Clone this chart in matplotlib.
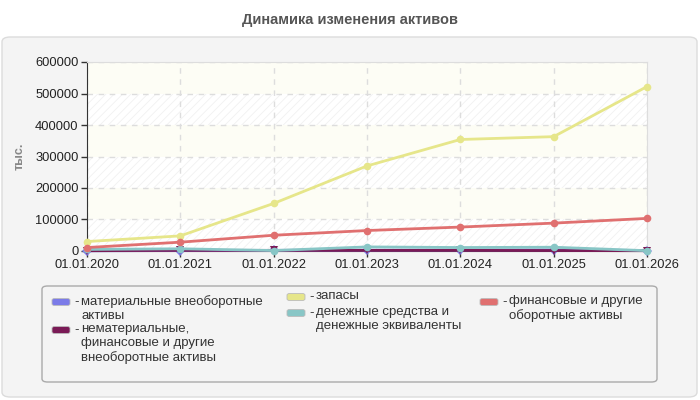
import numpy as np
import matplotlib
matplotlib.use("Agg")
import matplotlib.pyplot as plt
from matplotlib.patches import FancyBboxPatch

plt.rcParams['font.family'] = ['Liberation Sans', 'DejaVu Sans']
plt.rcParams['hatch.linewidth'] = 0.5

# data (тыс.)
dates = ['01.01.2020', '01.01.2021', '01.01.2022', '01.01.2023',
         '01.01.2024', '01.01.2025', '01.01.2026']
material = [500, 1500, 2000, 2500, 3000, 3500, 1500]
intangible = [1000, 2000, 2000, 2000, 2000, 1500, 1000]
stocks = [30000, 48000, 151000, 270000, 354000, 363000, 522000]
cash = [5000, 7000, 1500, 13000, 11000, 12000, 1000]
financial = [11000, 28000, 50000, 65000, 76000, 88500, 103500]

labels = ['материальные внеоборотные\nактивы',
          'нематериальные,\nфинансовые и другие\nвнеоборотные активы',
          'запасы',
          'денежные средства и\nденежные эквиваленты',
          'финансовые и другие\nоборотные активы']
colors = ['#7b7be8', '#7a1a56', '#e6e68a', '#88c6c6', '#e07070']
markers = ['D', 'v', 'o', 'o', 'o']
series = [material, intangible, stocks, cash, financial]

W, H = 700, 400
fig = plt.figure(figsize=(7, 4), dpi=100)
fig.patch.set_facecolor('white')

def fx(px):
    return px / W

def fy(py):
    return 1 - py / H

# grey panel
panel = FancyBboxPatch((fx(2), fy(397)), fx(695), 360 / H,
                       boxstyle="round,pad=0,rounding_size=0.012",
                       transform=fig.transFigure, facecolor='#f4f4f4',
                       edgecolor='#dcdcdc', linewidth=1, zorder=-10)
fig.patches.append(panel)

fig.text(0.5, fy(20), 'Динамика изменения активов', ha='center', va='center',
         fontsize=10.5, fontweight='bold', color='#555555')

ax = fig.add_axes([fx(87), fy(251), fx(560), 189 / H])
ax.set_zorder(2)
x = np.arange(len(dates))

# background bands
yticks = np.arange(0, 600001, 100000)
for i in range(len(yticks) - 1):
    if i % 2 == 0:
        ax.axhspan(yticks[i], yticks[i + 1], facecolor='white', hatch='////',
                   edgecolor='#efefef', linewidth=0, zorder=0)
    else:
        ax.axhspan(yticks[i], yticks[i + 1], facecolor='#fdfdf5',
                   linewidth=0, zorder=0)

for s, c, m in zip(series, colors, markers):
    ax.plot(x, s, color=c, linewidth=2, marker=m, markersize=5.5,
            markeredgewidth=0, zorder=3, clip_on=False)

ax.set_xlim(0, len(dates) - 1)
ax.set_ylim(0, 600000)
ax.set_xticks(x)
ax.set_xticklabels(dates)
ax.set_yticks(yticks)
ax.set_yticklabels([str(v) for v in yticks])
ax.grid(True, color='#dddddd', linestyle=(0, (4, 4)), linewidth=1, zorder=1)
ax.set_axisbelow(True)
ax.tick_params(axis='both', length=4, width=1, color='#333333',
               labelsize=9.3, labelcolor='#222222', pad=2)
for side in ['top', 'right']:
    ax.spines[side].set_color('#dddddd')
for side in ['left', 'bottom']:
    ax.spines[side].set_color('#333333')
ax.set_ylabel('тыс.', fontsize=9, fontweight='bold', color='#888888', labelpad=7)

# legend box
lbox = FancyBboxPatch((fx(42), fy(382)), fx(615), 96 / H,
                      boxstyle="round,pad=0,rounding_size=0.008",
                      transform=fig.transFigure, facecolor='#f4f4f4',
                      edgecolor='#aaaaaa', linewidth=1, zorder=-5)
fig.patches.append(lbox)

# patch left x and first-line center y of each entry
entry_pos = [(52, 302), (52, 330), (287, 297), (287, 313), (480, 302)]
for (px, py), lab, c in zip(entry_pos, labels, colors):
    patch = FancyBboxPatch((fx(px), fy(py + 3.5)), fx(18), 7 / H,
                           boxstyle="round,pad=0,rounding_size=0.004",
                           transform=fig.transFigure, facecolor=c,
                           edgecolor='#bbbbbb', linewidth=0.6)
    fig.patches.append(patch)
    fig.text(fx(px + 22), fy(py), '-', ha='left', va='center',
             fontsize=9.5, color='#333333')
    fig.text(fx(px + 29), fy(py - 7), lab, ha='left', va='top',
             fontsize=9.5, color='#333333', linespacing=1.22)

fig.savefig('out.png', dpi=100, facecolor='white')
